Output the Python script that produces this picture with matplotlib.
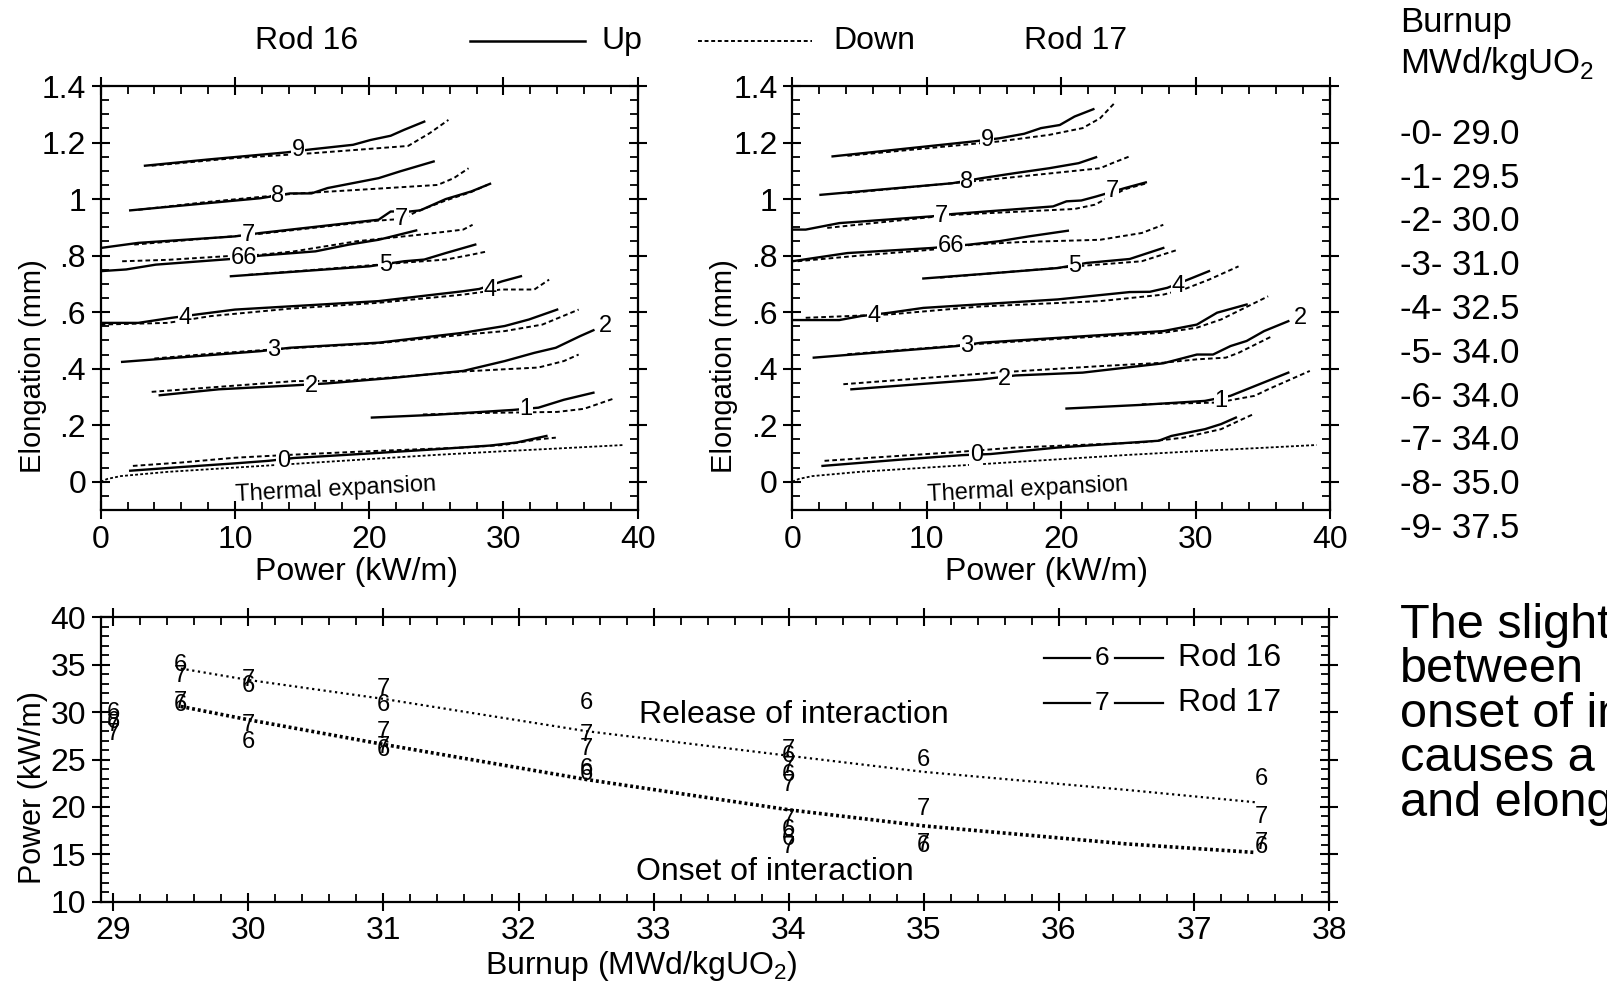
import matplotlib
matplotlib.use("Agg")
import matplotlib.pyplot as plt
from matplotlib.ticker import MultipleLocator

plt.rcParams['font.family'] = ['Liberation Sans', 'DejaVu Sans']
plt.rcParams['mathtext.fontset'] = 'custom'
plt.rcParams['mathtext.rm'] = 'Liberation Sans'

# ===== DATA: elongation vs power, curves 0-9 =====
thermal_x = [0, 0.5, 1.5, 5, 10, 15, 20, 25, 30, 35, 39]
thermal_y = [0, 0.01, 0.02, 0.035, 0.05, 0.065, 0.08, 0.095, 0.108, 0.12, 0.13]

r16_up_x = [[2.2, 6, 10, 12.5, 14.4, 20, 25, 29, 31, 33.2],
            [20.2, 25, 30.7, 32.6, 34.5, 36.7],
            [4.4, 8.8, 14.4, 16.9, 21.9, 27, 30.1, 32.3, 33.9, 35.7, 36.7],
            [1.6, 6, 11.9, 14.1, 20.7, 27, 30.1, 31.9, 34],
            [0, 2.8, 5.3, 7.2, 10, 20.7, 27, 28.2, 29.9, 31.3],
            [9.7, 15, 20, 22.6, 24.1, 25.7, 27.9],
            [0, 1.9, 4.1, 9.7, 11.9, 16, 18.5, 20.7, 23.5],
            [0, 2.8, 10, 11.9, 20.7, 21.6, 23, 23.8, 25.7, 27.6, 29],
            [2.2, 11.9, 14.1, 15.7, 16.9, 20.7, 22.3, 24.8],
            [3.3, 8, 13.8, 15.7, 18.8, 20.1, 21.6, 22.6, 24.1]]
r16_up_y = [[0.039, 0.052, 0.065, 0.074, 0.084, 0.10, 0.115, 0.128, 0.139, 0.162],
            [0.227, 0.237, 0.254, 0.262, 0.29, 0.315],
            [0.306, 0.327, 0.341, 0.348, 0.368, 0.392, 0.427, 0.456, 0.474, 0.515, 0.536],
            [0.424, 0.44, 0.462, 0.474, 0.492, 0.527, 0.551, 0.574, 0.609],
            [0.562, 0.562, 0.58, 0.592, 0.609, 0.639, 0.674, 0.682, 0.709, 0.727],
            [0.727, 0.745, 0.762, 0.78, 0.786, 0.809, 0.839],
            [0.745, 0.751, 0.768, 0.788, 0.8, 0.815, 0.839, 0.856, 0.889],
            [0.827, 0.845, 0.868, 0.88, 0.927, 0.956, 0.956, 0.96, 1.0, 1.027, 1.054],
            [0.96, 1.003, 1.02, 1.02, 1.039, 1.074, 1.098, 1.133],
            [1.118, 1.14, 1.165, 1.176, 1.192, 1.209, 1.224, 1.245, 1.274]]
r16_dn_x = [[2.4, 6, 10, 14, 20, 27, 30, 32.6, 33.9],
            [24, 28, 31, 34, 36, 38.2],
            [3.8, 10, 14.4, 18, 22, 27, 30.1, 32.6, 34.5, 35.6],
            [4, 8, 14, 20.7, 27, 30.1, 32.9, 35.6],
            [0, 5, 8.2, 14, 20.7, 27, 29.8, 32.3, 33.4],
            [11, 16, 22.3, 25.7, 27.6, 28.8],
            [1.6, 5, 9.4, 11.9, 14.4, 19.1, 23.8, 27, 27.7],
            [2.5, 11.3, 20.7, 22.5, 23.5, 25.7, 27.6, 28.8],
            [2.8, 8, 14.4, 20, 25.1, 26.3, 27.4],
            [3.8, 10, 15.7, 22.9, 24.5, 25.9]]
r16_dn_y = [[0.056, 0.068, 0.085, 0.095, 0.108, 0.121, 0.13, 0.15, 0.156],
            [0.238, 0.243, 0.245, 0.247, 0.258, 0.294],
            [0.318, 0.34, 0.356, 0.357, 0.37, 0.39, 0.398, 0.404, 0.427, 0.45],
            [0.436, 0.452, 0.472, 0.49, 0.52, 0.533, 0.556, 0.609],
            [0.556, 0.562, 0.586, 0.612, 0.633, 0.662, 0.68, 0.68, 0.715],
            [0.732, 0.75, 0.774, 0.786, 0.803, 0.815],
            [0.78, 0.785, 0.798, 0.803, 0.815, 0.851, 0.874, 0.892, 0.909],
            [0.839, 0.874, 0.924, 0.93, 0.955, 0.995, 1.025, 1.05],
            [0.962, 0.99, 1.019, 1.035, 1.05, 1.074, 1.109],
            [1.118, 1.145, 1.162, 1.188, 1.233, 1.28]]
r16_lbl = ['0', '1', '2', '2', '3', '4', '4', '5', '66', '7', '7', '8', '9']
r16_lbl_x = [13.6, 31.7, 15.7, 37.6, 12.9, 6.3, 29.0, 21.2, 10.65, 11.0, 22.4, 13.2, 14.7]
r16_lbl_y = [0.075, 0.256, 0.339, 0.551, 0.465, 0.58, 0.68, 0.765, 0.792, 0.874, 0.93, 1.01, 1.172]

r17_up_x = [[2.25, 8, 12.6, 14.75, 19.75, 27.25, 28.2, 30.7, 31.9, 33],
            [20.4, 26, 30.7, 32.6, 34.75, 36.9],
            [4.4, 14.1, 16.6, 21.6, 27.6, 30.1, 31.3, 32.6, 33.8, 35.1, 36.9],
            [1.6, 12.25, 14.1, 19.75, 27.6, 30.1, 31.6, 33.8],
            [0, 3.5, 5.1, 7.25, 9.75, 19.75, 25.1, 26.6, 27.9, 29.75, 31],
            [9.75, 15, 19.75, 21.9, 25.1, 27.6],
            [0, 4.1, 10.4, 13.2, 15.4, 17.6, 20.5],
            [0, 1, 3.5, 10.4, 11.9, 19.4, 20.4, 21.5, 22.6, 24.75, 26.3],
            [2.1, 11.9, 14.1, 16.6, 19.1, 21.3, 22.6],
            [3, 13.5, 15.4, 17.25, 18.5, 19.9, 21, 22.4]]
r17_up_y = [[0.056, 0.078, 0.094, 0.098, 0.121, 0.145, 0.162, 0.186, 0.204, 0.227],
            [0.259, 0.272, 0.286, 0.304, 0.345, 0.386],
            [0.327, 0.362, 0.376, 0.386, 0.419, 0.45, 0.45, 0.48, 0.498, 0.533, 0.568],
            [0.439, 0.48, 0.492, 0.509, 0.533, 0.556, 0.598, 0.627],
            [0.572, 0.572, 0.586, 0.598, 0.615, 0.645, 0.671, 0.672, 0.686, 0.721, 0.745],
            [0.719, 0.738, 0.756, 0.774, 0.788, 0.827],
            [0.78, 0.809, 0.827, 0.839, 0.851, 0.868, 0.888],
            [0.892, 0.892, 0.915, 0.939, 0.947, 0.974, 0.992, 0.995, 1.009, 1.039, 1.059],
            [1.015, 1.056, 1.074, 1.092, 1.109, 1.127, 1.148],
            [1.151, 1.204, 1.215, 1.231, 1.251, 1.262, 1.292, 1.318]]
r17_dn_x = [[2.4, 11.9, 16.6, 26, 29.1, 31.9, 33.2, 34.3],
            [26, 31.6, 34.4, 35.4, 38.5],
            [3.8, 15.1, 22.9, 27.6, 30.1, 32.25, 33.2, 35.7],
            [4.1, 14, 20, 27.6, 30.1, 31.9, 35.4],
            [1, 7.25, 14, 22.9, 27.6, 29.1, 31, 33.2],
            [11, 16, 21.9, 26, 28.7],
            [0.4, 5, 10.4, 13.5, 17, 22.9, 26, 27.6],
            [2.6, 11.9, 21, 22.5, 24.75, 26.3],
            [4.1, 14.1, 22.9, 23.8, 25.2],
            [4.1, 15.4, 19.1, 21.6, 22.9, 24]]
r17_dn_y = [[0.074, 0.104, 0.121, 0.139, 0.156, 0.186, 0.215, 0.239],
            [0.274, 0.28, 0.304, 0.327, 0.392],
            [0.345, 0.386, 0.409, 0.421, 0.433, 0.439, 0.456, 0.515],
            [0.451, 0.488, 0.506, 0.527, 0.545, 0.574, 0.656],
            [0.58, 0.592, 0.62, 0.639, 0.662, 0.68, 0.715, 0.762],
            [0.722, 0.742, 0.765, 0.78, 0.821],
            [0.78, 0.8, 0.821, 0.839, 0.848, 0.856, 0.88, 0.909],
            [0.898, 0.944, 0.965, 0.98, 1.035, 1.055],
            [1.021, 1.066, 1.109, 1.127, 1.153],
            [1.153, 1.204, 1.227, 1.251, 1.286, 1.341]]
r17_lbl = ['0', '1', '2', '2', '3', '4', '4', '5', '66', '7', '7', '8', '9']
r17_lbl_x = [13.7, 31.9, 15.8, 37.8, 13.0, 6.1, 28.7, 21.0, 11.8, 11.1, 23.8, 13.0, 14.5]
r17_lbl_y = [0.094, 0.286, 0.362, 0.58, 0.48, 0.586, 0.692, 0.762, 0.833, 0.941, 1.027, 1.062, 1.209]

elong_yticks = [0, 0.2, 0.4, 0.6, 0.8, 1.0, 1.2, 1.4]
elong_ylabels = ['0', '.2', '.4', '.6', '.8', '1', '1.2', '1.4']

# ===== DATA: interaction power vs burnup =====
fit_burnup = [29.5, 30, 31, 32.5, 34, 35, 36.5, 37.45]
release_power = [34.6, 33.4, 31.4, 28.0, 25.4, 23.7, 21.8, 20.5]
onset_power = [30.6, 29.2, 26.6, 22.9, 19.7, 18.0, 16.1, 15.2]

burnup6 = [29, 29, 29.5, 29.5, 30, 30, 31, 31, 32.5, 32.5, 32.5, 34, 34, 34, 34, 35, 35, 37.5, 37.5]
power6 = [29.9, 29.0, 35.0, 30.8, 32.8, 26.9, 30.8, 26.0, 31.0, 24.0, 23.5,
          25.4, 23.4, 17.6, 16.6, 25.0, 15.9, 23.0, 15.8]
burnup7 = [29, 29, 29.5, 29.5, 30, 30, 31, 31, 31, 32.5, 32.5, 34, 34, 34, 34, 34, 35, 35, 37.5, 37.5]
power7 = [28.6, 27.7, 33.8, 31.1, 33.4, 28.6, 32.4, 27.9, 26.3, 27.6, 26.1,
          26.0, 24.2, 22.3, 18.6, 15.8, 19.8, 16.1, 18.9, 16.2]

burnup_list = ['29.0', '29.5', '30.0', '31.0', '32.5', '34.0', '34.0', '34.0', '35.0', '37.5']
note_lines = ['The slight', 'between', 'onset of interaction', 'causes a', 'and elongation']

DASH = (2.4, 1.6)


def style_axes(ax, size):
    for s in ax.spines.values():
        s.set_linewidth(1.6)
    ax.tick_params(which='major', direction='inout', length=13, width=1.5,
                   top=True, right=True, labelsize=size, pad=4)
    ax.tick_params(which='minor', direction='in', length=6, width=1.3,
                   top=True, right=True)


fig = plt.figure(figsize=(16.08, 9.84), dpi=100)

ax1 = fig.add_axes([0.0626, 0.4817, 0.334, 0.4309])
ax2 = fig.add_axes([0.4927, 0.4817, 0.3344, 0.4309])

rods = [(ax1, r16_up_x, r16_up_y, r16_dn_x, r16_dn_y, r16_lbl, r16_lbl_x, r16_lbl_y, 0.477),
        (ax2, r17_up_x, r17_up_y, r17_dn_x, r17_dn_y, r17_lbl, r17_lbl_x, r17_lbl_y, 0.472)]

for ax, ux, uy, dx, dy, lb, lx, ly, xlab in rods:
    ax.plot(thermal_x, thermal_y, color='black', lw=1.3, dashes=(1.6, 1.2))
    for i in range(10):
        ax.plot(ux[i], uy[i], color='black', lw=1.7)
        ax.plot(dx[i], dy[i], color='black', lw=1.4, dashes=DASH)
    for s, x, y in zip(lb, lx, ly):
        ax.text(x, y, s, ha='center', va='center', fontsize=17, zorder=5,
                bbox=dict(facecolor='white', edgecolor='none', pad=0.3))
    ax.text(17.5, -0.027, 'Thermal expansion', ha='center', va='center',
            fontsize=17, rotation=3)
    ax.set_xlim(0, 40)
    ax.set_ylim(-0.1, 1.4)
    ax.set_xticks([0, 10, 20, 30, 40])
    ax.set_yticks(elong_yticks, elong_ylabels)
    ax.xaxis.set_minor_locator(MultipleLocator(2))
    ax.yaxis.set_minor_locator(MultipleLocator(0.05))
    style_axes(ax, 23)
    ax.set_xlabel('Power (kW/m)', fontsize=23)
    ax.set_ylabel('Elongation (mm)', fontsize=21)
    ax.xaxis.set_label_coords(xlab, -0.11)
    ax.yaxis.set_label_coords(-0.10, 0.34)

# ===== bottom panel =====
ax3 = fig.add_axes([0.0626, 0.0836, 0.764, 0.289])
ax3.plot(fit_burnup, release_power, color='black', lw=1.6, dashes=(1.0, 1.6))
ax3.plot(fit_burnup, onset_power, color='black', lw=2.6, dashes=(0.8, 0.8))
for x, y in zip(burnup6, power6):
    ax3.text(x, y, '6', ha='center', va='center', fontsize=17)
for x, y in zip(burnup7, power7):
    ax3.text(x, y, '7', ha='center', va='center', fontsize=17)
ax3.text(34.04, 29.7, 'Release of interaction', ha='center', va='center', fontsize=23)
ax3.text(33.9, 13.1, 'Onset of interaction', ha='center', va='center', fontsize=23)

for num, rod, yy in [('6', 'Rod 16', 0.858), ('7', 'Rod 17', 0.70)]:
    ax3.plot([0.768, 0.805], [yy, yy], color='black', lw=1.6, transform=ax3.transAxes)
    ax3.plot([0.826, 0.865], [yy, yy], color='black', lw=1.6, transform=ax3.transAxes)
    ax3.text(0.815, yy, num, ha='center', va='center', fontsize=19, transform=ax3.transAxes)
    ax3.text(0.877, yy, rod, ha='left', va='center', fontsize=23, transform=ax3.transAxes)

ax3.set_xlim(28.907, 38)
ax3.set_ylim(10, 40)
ax3.set_xticks(range(29, 39))
ax3.set_yticks(range(10, 41, 5))
ax3.xaxis.set_minor_locator(MultipleLocator(0.2))
ax3.yaxis.set_minor_locator(MultipleLocator(1))
style_axes(ax3, 23)
ax3.set_xlabel('Burnup (MWd/kgUO$_2$)', fontsize=23)
ax3.set_ylabel('Power (kW/m)', fontsize=22)
ax3.xaxis.set_label_coords(0.44, -0.165)
ax3.yaxis.set_label_coords(-0.043, 0.4)

# ===== header legend =====
yh = 0.958
fig.text(0.1907, yh, 'Rod 16', ha='center', va='center', fontsize=23)
fig.lines.append(plt.Line2D([0.2921, 0.3637], [yh, yh], color='black', lw=1.8,
                            transform=fig.transFigure))
fig.text(0.3738, yh, 'Up', ha='left', va='center', fontsize=23)
fig.lines.append(plt.Line2D([0.4341, 0.505], [yh, yh], color='black', lw=1.4,
                            dashes=(2.0, 1.4), transform=fig.transFigure))
fig.text(0.518, yh, 'Down', ha='left', va='center', fontsize=23)
fig.text(0.6686, yh, 'Rod 17', ha='center', va='center', fontsize=23)

# ===== right column text =====
xr = 0.8706
fig.text(xr, 1 - 22.6 / 984, 'Burnup', ha='left', va='center', fontsize=25)
fig.text(xr, 1 - 63.6 / 984, 'MWd/kgUO$_2$', ha='left', va='center', fontsize=25)
for i, b in enumerate(burnup_list):
    fig.text(xr, 1 - (134.3 + 43.8 * i) / 984, f'-{i}- {b}', ha='left', va='center',
             fontsize=25)
for i, line in enumerate(note_lines):
    fig.text(xr, 1 - (625.5 + 44.4 * i) / 984, line, ha='left', va='center', fontsize=35)

fig.savefig('out.png', dpi=100)
